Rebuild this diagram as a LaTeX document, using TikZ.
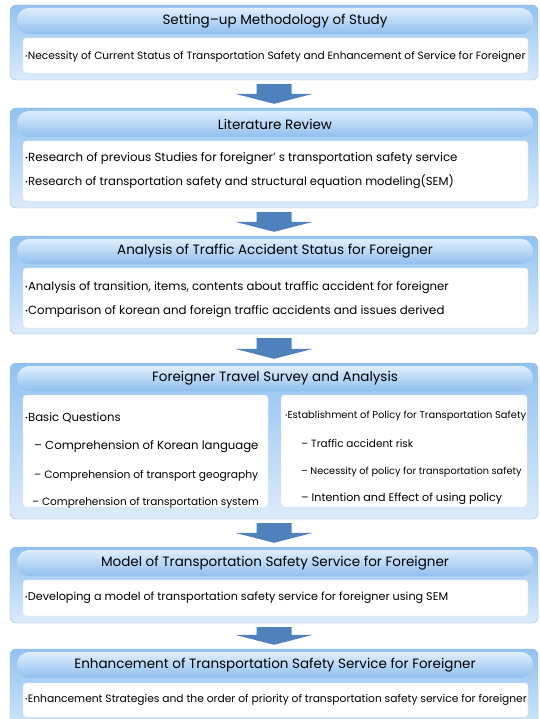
\documentclass[tikz,border=0pt]{standalone}
\usepackage{fontspec}
\setmainfont{Poppins}
\usetikzlibrary{calc}

\definecolor{panelTop}{RGB}{146,194,240}
\definecolor{panelBot}{RGB}{220,235,251}
\definecolor{headTop}{RGB}{224,238,252}
\definecolor{headBot}{RGB}{142,191,239}
\definecolor{panelEdge}{RGB}{158,182,208}
\definecolor{arrowBlue}{RGB}{79,129,189}

\newcommand\titlefont{\fontsize{13.5}{16}\selectfont}
\newcommand\itemsize[1]{\fontsize{#1}{14}\selectfont}
\newcommand\bul{\raisebox{0.2ex}{\scalebox{0.6}{•}}}

\tikzset{
  panel/.style={draw=panelEdge, rounded corners=6pt, top color=panelTop,
    bottom color=panelBot, minimum width=528pt, inner sep=0pt},
  header/.style={rounded corners=12pt, top color=headTop, bottom color=headBot,
    minimum width=516pt, minimum height=26pt, inner sep=0pt, font=\titlefont},
  itembox/.style={draw=black!12, fill=white, rounded corners=3pt, inner sep=0pt},
  item/.style={anchor=west, inner sep=0pt, font=\itemsize{11.7}},
  bigarrow/.style={fill=arrowBlue, draw=none}
}

\begin{document}
\begin{tikzpicture}[x=1pt, y=-1pt]
    \useasboundingbox (0,0) rectangle (539,719);

    % panel 1
    \node[panel, minimum height=75pt] (panel1) at (274, 42.5) {};
    \node[header] (head1) at (275, 21) {Setting–up Methodology of Study};
    \node[itembox, minimum width=505pt, minimum height=35pt] (box1) at (275.5, 55.5) {};
    \node[item, font=\itemsize{10.6}] (item11) at (25, 57) {\bul Necessity of Current Status of Transportation Safety and Enhancement of Service for Foreigner};

    % panel 2
    \node[panel, minimum height=100pt] (panel2) at (274, 158) {};
    \node[header] (head2) at (275, 124) {Literature Review};
    \node[itembox, minimum width=505pt, minimum height=60pt] (box2) at (275.5, 171) {};
    \node[item, font=\itemsize{11.8}] (item21) at (25, 159) {\bul Research of previous Studies for foreigner’ s transportation safety service};
    \node[item, font=\itemsize{11.6}] (item22) at (25, 182) {\bul Research of transportation safety and structural equation modeling(SEM)};

    % panel 3
    \node[panel, minimum height=98pt] (panel3) at (274, 285) {};
    \node[header, minimum height=25pt] (head3) at (275, 251.5) {Analysis of Traffic Accident Status for Foreigner};
    \node[itembox, minimum width=505pt, minimum height=60pt] (box3) at (275.5, 298) {};
    \node[item] (item31) at (25, 288) {\bul Analysis of transition, items, contents about traffic accident for foreigner};
    \node[item, font=\itemsize{11.8}] (item32) at (25, 312) {\bul Comparison of korean and foreign traffic accidents and issues derived};

    % panel 4
    \node[panel, minimum height=156pt] (panel4) at (274, 441) {};
    \node[header, minimum height=25pt] (head4) at (275, 378.5) {Foreigner Travel Survey and Analysis};
    \node[itembox, minimum width=245pt, minimum height=112pt] (box4a) at (145.5, 451) {};
    \node[itembox, minimum width=246pt, minimum height=112pt] (box4b) at (404, 451) {};
    \node[item] (item41) at (25, 418) {\bul Basic Questions};
    \node[item] (item42) at (34, 447) {– Comprehension of Korean language};
    \node[item, font=\itemsize{10.7}] (item43) at (34, 476) {– Comprehension of transport geography};
    \node[item, font=\itemsize{10.5}] (item44) at (32, 503) {– Comprehension of transportation system};
    \node[item, font=\itemsize{9.9}] (item45) at (285, 416) {\bul Establishment of Policy for Transportation Safety};
    \node[item, font=\itemsize{10.5}] (item46) at (301, 444) {– Traffic accident risk};
    \node[item, font=\itemsize{9.75}] (item47) at (301, 472) {– Necessity of policy for transportation safety};
    \node[item, font=\itemsize{11.1}] (item48) at (301, 499) {– Intention and Effect of using policy};

    % panel 5
    \node[panel, minimum height=76pt] (panel5) at (274, 585) {};
    \node[header] (head5) at (275, 563) {Model of Transportation Safety Service for Foreigner};
    \node[itembox, minimum width=505pt, minimum height=36pt] (box5) at (275.5, 598) {};
    \node[item, font=\itemsize{11.2}] (item51) at (25, 598) {\bul Developing a model of transportation safety service for foreigner using SEM};

    % panel 6
    \node[panel, minimum height=92pt] (panel6) at (274, 695) {};
    \node[header] (head6) at (275, 665) {Enhancement of Transportation Safety Service for Foreigner};
    \node[itembox, minimum width=505pt, minimum height=34pt] (box6) at (275.5, 700) {};
    \node[item, font=\itemsize{10.7}] (item61) at (25, 700) {\bul Enhancement Strategies and the order of priority of transportation safety service for foreigner};

    % arrows between panels
    \fill[bigarrow] ($(panel1.south)+(-17.5,4)$) -- ($(panel1.south)+(17.5,4)$) -- ($(panel2.north)+(17.5,-14)$) -- ($(panel2.north)+(39,-14)$) -- ($(panel2.north)+(0,-4)$) -- ($(panel2.north)+(-39,-14)$) -- ($(panel2.north)+(-17.5,-14)$) -- cycle;
    \fill[bigarrow] ($(panel2.south)+(-17.5,4)$) -- ($(panel2.south)+(17.5,4)$) -- ($(panel3.north)+(17.5,-14)$) -- ($(panel3.north)+(39,-14)$) -- ($(panel3.north)+(0,-4)$) -- ($(panel3.north)+(-39,-14)$) -- ($(panel3.north)+(-17.5,-14)$) -- cycle;
    \fill[bigarrow] ($(panel3.south)+(-17.5,4)$) -- ($(panel3.south)+(17.5,4)$) -- ($(panel4.north)+(17.5,-14)$) -- ($(panel4.north)+(39,-14)$) -- ($(panel4.north)+(0,-4)$) -- ($(panel4.north)+(-39,-14)$) -- ($(panel4.north)+(-17.5,-14)$) -- cycle;
    \fill[bigarrow] ($(panel4.south)+(-17.5,4)$) -- ($(panel4.south)+(17.5,4)$) -- ($(panel5.north)+(17.5,-14)$) -- ($(panel5.north)+(39,-14)$) -- ($(panel5.north)+(0,-4)$) -- ($(panel5.north)+(-39,-14)$) -- ($(panel5.north)+(-17.5,-14)$) -- cycle;
    \fill[bigarrow] ($(panel5.south)+(-17.5,4)$) -- ($(panel5.south)+(17.5,4)$) -- ($(panel6.north)+(17.5,-14)$) -- ($(panel6.north)+(39,-14)$) -- ($(panel6.north)+(0,-4)$) -- ($(panel6.north)+(-39,-14)$) -- ($(panel6.north)+(-17.5,-14)$) -- cycle;

\end{tikzpicture}
\end{document}
